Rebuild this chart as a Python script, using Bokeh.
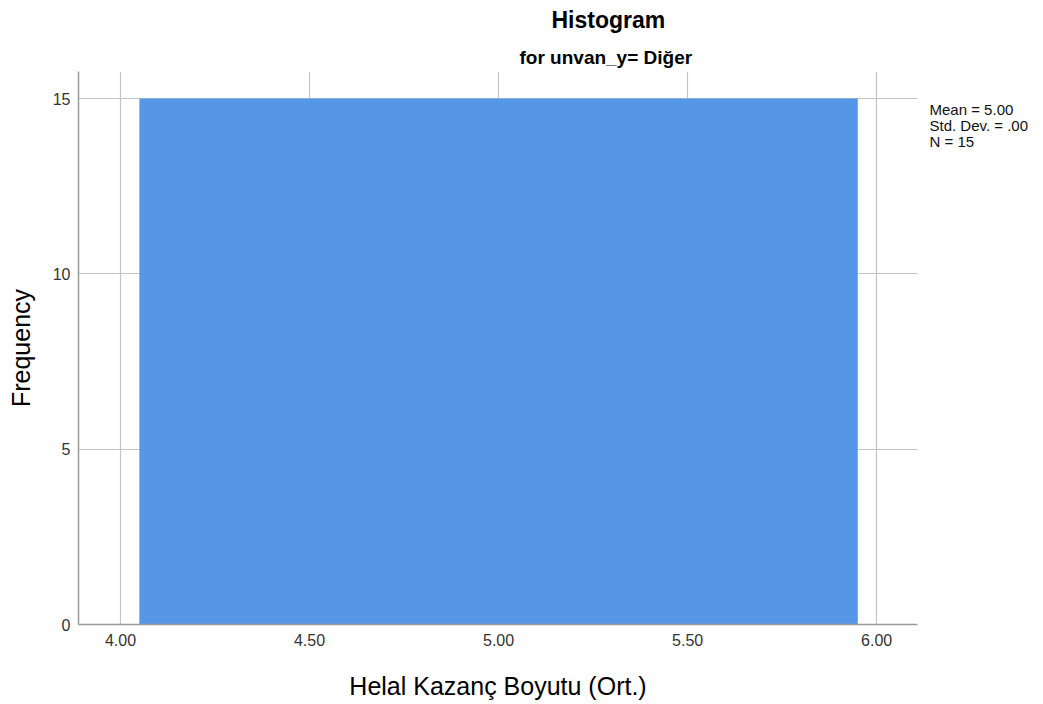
from bokeh.plotting import figure
from bokeh.models import (Range1d, FixedTicker, PrintfTickFormatter, ColumnDataSource,
                          Title, LinearAxis, CustomJSTickFormatter, AllLabels)
from bokeh.embed import file_html
from bokeh.resources import INLINE

# ---- data ----
bin_left = [4.05]
bin_right = [5.95]
counts = [15]
x_ticks = [4.0, 4.5, 5.0, 5.5, 6.0]
y_ticks = [0, 5, 10, 15]
stats_lines = ["Mean = 5.00", "Std. Dev. = .00", "N = 15"]
title_text = "Histogram"
subtitle_text = "for unvan_y= Diğer"
x_label = "Helal Kazanç Boyutu (Ort.)"
y_label = "Frequency"

FONT = "Liberation Sans"
Y_MAX = 15.77

src = ColumnDataSource(dict(left=bin_left, right=bin_right, top=counts, bottom=[0] * len(counts)))

p = figure(width=1034, height=702, output_backend="svg", toolbar_location=None,
           x_range=Range1d(3.889, 6.108), y_range=Range1d(0, Y_MAX),
           min_border_left=78, min_border_right=117, min_border_top=0, min_border_bottom=78)
p.outline_line_color = None
p.background_fill_color = "white"
p.border_fill_color = "white"

p.quad(left="left", right="right", top="top", bottom="bottom", source=src,
       fill_color="#5596E6", line_color=None)

for ax in (p.xaxis[0], p.yaxis[0]):
    ax.major_tick_line_color = None
    ax.minor_tick_line_color = None
    ax.major_tick_out = 0
    ax.major_tick_in = 0
    ax.minor_tick_out = 0
    ax.minor_tick_in = 0
    ax.axis_line_color = "#9a9a9a"
    ax.axis_line_width = 1.5
    ax.major_label_text_font = FONT
    ax.major_label_text_font_size = "16px"
    ax.major_label_text_color = "#333333"
    ax.axis_label_text_font = FONT
    ax.axis_label_text_font_size = "25px"
    ax.axis_label_text_font_style = "normal"
    ax.axis_label_text_color = "#000000"

p.xaxis.ticker = FixedTicker(ticks=x_ticks)
p.xaxis.formatter = PrintfTickFormatter(format="%.2f")
p.xaxis.major_label_standoff = 9
p.xaxis.axis_label = x_label
p.xaxis.axis_label_standoff = 23

p.yaxis.ticker = FixedTicker(ticks=y_ticks)
p.yaxis.major_label_standoff = 8
p.yaxis.axis_label = y_label
p.yaxis.axis_label_standoff = 15

p.xgrid.ticker = FixedTicker(ticks=x_ticks)
p.ygrid.ticker = FixedTicker(ticks=y_ticks)
p.grid.grid_line_color = "#c4c4c4"
p.grid.grid_line_width = 1.2

# titles: subtitle (closest to frame) added first, main title stacked above it
p.add_layout(Title(text=subtitle_text, align="left", offset=441, standoff=7,
                   text_font=FONT, text_font_size="19px", text_font_style="bold",
                   text_color="black"), "above")
p.add_layout(Title(text=title_text, align="left", offset=473, standoff=13,
                   vertical_align="top",
                   text_font=FONT, text_font_size="23px", text_font_style="bold",
                   text_color="black"), "above")

# summary statistics shown as labels of an unlined right-hand axis
frame_px = 552.0
line_px = 16.0
first_px = 38.0  # distance of first line below frame top
stat_pos = [Y_MAX - (first_px + i * line_px) * Y_MAX / frame_px for i in range(len(stats_lines))]
order = sorted(range(len(stats_lines)), key=lambda i: stat_pos[i])
stat_ticks = [stat_pos[i] for i in order]
stat_labels = [stats_lines[i] for i in order]

r_axis = LinearAxis(ticker=FixedTicker(ticks=stat_ticks),
                    formatter=CustomJSTickFormatter(args=dict(labels=stat_labels),
                                                    code="return labels[index];"),
                    axis_line_color=None, major_tick_line_color=None, minor_tick_line_color=None,
                    major_tick_out=0, major_tick_in=0, minor_tick_out=0, minor_tick_in=0,
                    major_label_text_font=FONT, major_label_text_font_size="15px",
                    major_label_text_color="#111111", major_label_standoff=12,
                    major_label_policy=AllLabels())
p.add_layout(r_axis, "right")

open("out.html", "w").write(file_html(p, INLINE))
